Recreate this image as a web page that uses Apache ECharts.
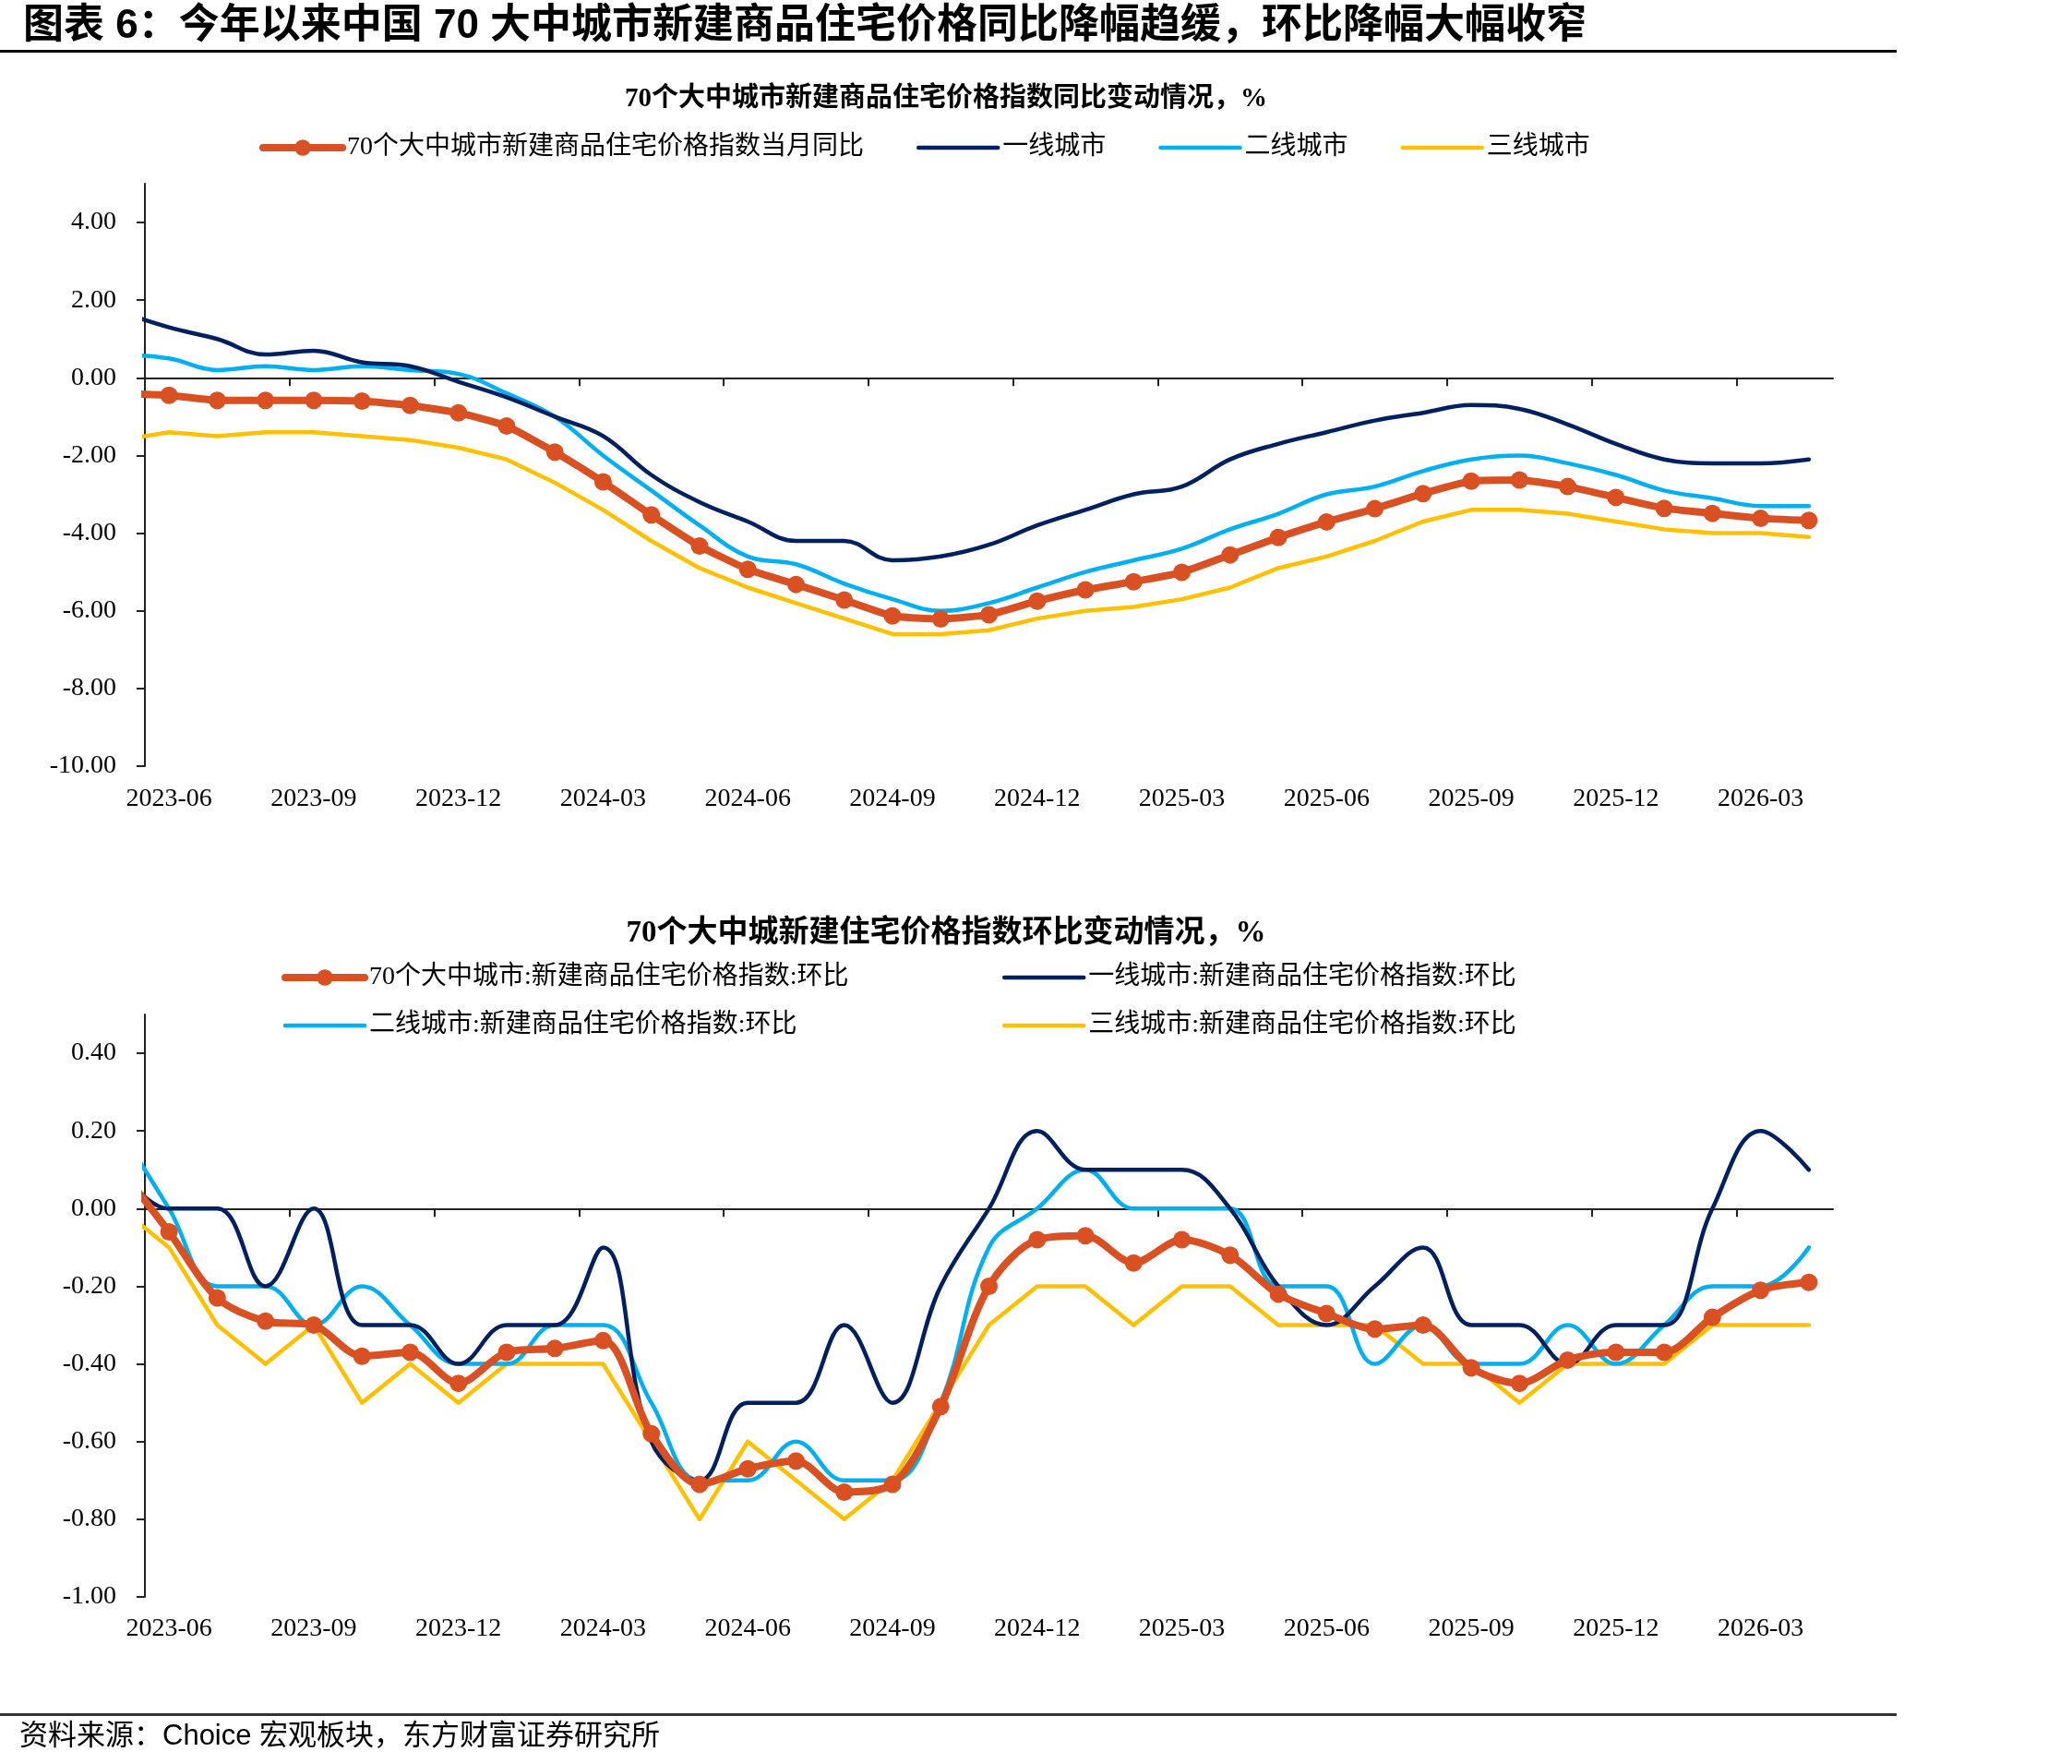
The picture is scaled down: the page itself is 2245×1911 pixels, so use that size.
<!DOCTYPE html>
<html>
<head>
<meta charset="utf-8">
<title>70个大中城市新建商品住宅价格指数</title>
<script src="https://cdn.jsdelivr.net/npm/echarts@6.0.0/dist/echarts.min.js"></script>
<style>
  html, body { margin: 0; padding: 0; background: #fff; }
  #chart { width: 2245px; height: 1911px; }
</style>
</head>
<body>
<div id="chart"></div>
<script>
// month of each point; the first one (2023-05) lies half outside the plot and is clipped
const months = [
  '2023-05', '2023-06', '2023-07', '2023-08', '2023-09', '2023-10', '2023-11', '2023-12',
  '2024-01', '2024-02', '2024-03', '2024-04', '2024-05', '2024-06', '2024-07', '2024-08',
  '2024-09', '2024-10', '2024-11', '2024-12', '2025-01', '2025-02', '2025-03', '2025-04',
  '2025-05', '2025-06', '2025-07', '2025-08', '2025-09', '2025-10', '2025-11', '2025-12',
  '2026-01', '2026-02', '2026-03', '2026-04'
];

// 同比, %
const yoy_70 = [-0.40, -0.45, -0.58, -0.58, -0.58, -0.60, -0.71, -0.90, -1.24, -1.91, -2.68, -3.53,
  -4.33, -4.93, -5.32, -5.72, -6.13, -6.21, -6.10, -5.75, -5.46, -5.25, -5.01, -4.56,
  -4.11, -3.71, -3.37, -2.98, -2.66, -2.63, -2.80, -3.08, -3.36, -3.49, -3.62, -3.67];
const yoy_tier1 = [1.7, 1.3, 1.0, 0.6, 0.7, 0.4, 0.3, -0.1, -0.5, -1.0, -1.5, -2.5,
  -3.2, -3.7, -4.2, -4.2, -4.7, -4.6, -4.3, -3.8, -3.4, -3.0, -2.8, -2.1,
  -1.7, -1.4, -1.1, -0.9, -0.7, -0.8, -1.2, -1.7, -2.1, -2.2, -2.2, -2.1];
const yoy_tier2 = [0.6, 0.5, 0.2, 0.3, 0.2, 0.3, 0.2, 0.1, -0.4, -1.0, -2.0, -2.9,
  -3.8, -4.6, -4.8, -5.3, -5.7, -6.0, -5.8, -5.4, -5.0, -4.7, -4.4, -3.9,
  -3.5, -3.0, -2.8, -2.4, -2.1, -2.0, -2.2, -2.5, -2.9, -3.1, -3.3, -3.3];
const yoy_tier3 = [-1.6, -1.4, -1.5, -1.4, -1.4, -1.5, -1.6, -1.8, -2.1, -2.7, -3.4, -4.2,
  -4.9, -5.4, -5.8, -6.2, -6.6, -6.6, -6.5, -6.2, -6.0, -5.9, -5.7, -5.4,
  -4.9, -4.6, -4.2, -3.7, -3.4, -3.4, -3.5, -3.7, -3.9, -4.0, -4.0, -4.1];

// 环比, %
const mom_70 = [0.10, -0.06, -0.23, -0.29, -0.30, -0.38, -0.37, -0.45, -0.37, -0.36, -0.34, -0.58,
  -0.71, -0.67, -0.65, -0.73, -0.71, -0.51, -0.20, -0.08, -0.07, -0.14, -0.08, -0.12,
  -0.22, -0.27, -0.31, -0.30, -0.41, -0.45, -0.39, -0.37, -0.37, -0.28, -0.21, -0.19];
const mom_tier1 = [0.1, 0.0, 0.0, -0.2, 0.0, -0.3, -0.3, -0.4, -0.3, -0.3, -0.1, -0.6,
  -0.7, -0.5, -0.5, -0.3, -0.5, -0.2, 0.0, 0.2, 0.1, 0.1, 0.1, 0.0,
  -0.2, -0.3, -0.2, -0.1, -0.3, -0.3, -0.4, -0.3, -0.3, 0.0, 0.2, 0.1];
const mom_tier2 = [0.2, 0.0, -0.2, -0.2, -0.3, -0.2, -0.3, -0.4, -0.4, -0.3, -0.3, -0.5,
  -0.7, -0.7, -0.6, -0.7, -0.7, -0.5, -0.1, 0.0, 0.1, 0.0, 0.0, 0.0,
  -0.2, -0.2, -0.4, -0.3, -0.4, -0.4, -0.3, -0.4, -0.3, -0.2, -0.2, -0.1];
const mom_tier3 = [0.0, -0.1, -0.3, -0.4, -0.3, -0.5, -0.4, -0.5, -0.4, -0.4, -0.4, -0.6,
  -0.8, -0.6, -0.7, -0.8, -0.7, -0.5, -0.3, -0.2, -0.2, -0.3, -0.2, -0.2,
  -0.3, -0.3, -0.3, -0.4, -0.4, -0.5, -0.4, -0.4, -0.4, -0.3, -0.3, -0.3];

// y axis tick labels
const yoy_ticks = [-10, -8, -6, -4, -2, 0, 2, 4];
const mom_ticks = [-1, -0.8, -0.6, -0.4, -0.2, 0, 0.2, 0.4];

const names_yoy = ['70个大中城市新建商品住宅价格指数当月同比', '一线城市', '二线城市', '三线城市'];
const names_mom = ['70个大中城市:新建商品住宅价格指数:环比', '一线城市:新建商品住宅价格指数:环比',
  '二线城市:新建商品住宅价格指数:环比', '三线城市:新建商品住宅价格指数:环比'];

const main_title = '图表 6：今年以来中国 70 大中城市新建商品住宅价格同比降幅趋缓，环比降幅大幅收窄';
const title_yoy = '70个大中城市新建商品住宅价格指数同比变动情况，%';
const title_mom = '70个大中城新建住宅价格指数环比变动情况，%';
const source_text = '资料来源：Choice 宏观板块，东方财富证券研究所';

const C_ORANGE = '#D95123', C_NAVY = '#002060', C_BLUE = '#00B0F0', C_YELLOW = '#FFC000';
const SERIF = '"Liberation Serif", "Noto Sans CJK SC"';
const SANS = '"Liberation Sans", "Noto Sans CJK SC"';

// x runs from 0 to 35 (one unit per month), month j is drawn at j - 0.5
const n_months = months.length - 1;
let x_ticks = [], x_labels = [];
for (let j = 1; j < months.length; j += 3) {
  x_ticks.push(j - 1);
  x_labels.push(j - 0.5);
}
const toPoints = arr => arr.map((v, j) => [j - 0.5, v]);

const axisColor = '#222';

function xAxes(grid, labelMargin) {
  return [
    {
      gridIndex: grid, type: 'value', min: 0, max: n_months, position: 'bottom',
      axisLine: { show: true, onZero: true, lineStyle: { color: axisColor, width: 2 } },
      axisTick: { show: true, customValues: x_ticks, length: 9, lineStyle: { color: axisColor, width: 2 } },
      axisLabel: { show: false },
      splitLine: { show: false }
    },
    {
      gridIndex: grid, type: 'value', min: 0, max: n_months, position: 'bottom',
      axisLine: { show: false, onZero: false },
      axisTick: { show: false },
      axisLabel: {
        customValues: x_labels,
        formatter: v => months[Math.round(v + 0.5)],
        margin: labelMargin, fontSize: 28, fontFamily: SERIF, color: '#000'
      },
      splitLine: { show: false }
    }
  ];
}

function yAxis(grid, min, max, ticks) {
  return {
    gridIndex: grid, type: 'value', min: min, max: max, position: 'left',
    axisLine: { show: true, onZero: false, lineStyle: { color: axisColor, width: 2 } },
    axisTick: { show: true, customValues: ticks, length: 9, lineStyle: { color: axisColor, width: 2 } },
    axisLabel: {
      customValues: ticks, formatter: v => v.toFixed(2),
      margin: 31, fontSize: 28, fontFamily: SERIF, color: '#000'
    },
    splitLine: { show: false }
  };
}

function line(name, data, xi, yi, color, width, smooth, marker) {
  return {
    name: name, type: 'line', xAxisIndex: xi, yAxisIndex: yi,
    data: toPoints(data),
    smooth: smooth,
    symbol: marker ? 'circle' : 'none',
    showSymbol: !!marker,
    symbolSize: 19,
    clip: true,
    lineStyle: { color: color, width: width, cap: 'round', join: 'round' },
    itemStyle: { color: color },
    z: marker ? 5 : 3
  };
}

// legend entry: plain lines get no dot in the icon
function legendItem(name, marker) {
  if (marker) return { name: name };
  return { name: name, itemStyle: { color: 'transparent', borderColor: 'transparent', borderWidth: 0 } };
}

const legendText = { fontSize: 28, fontFamily: SERIF, color: '#000', lineHeight: 32 };

let option = {
  backgroundColor: '#fff',
  animation: false,
  grid: [
    { left: 157, top: 199, width: 1829, height: 631 },
    { left: 157, top: 1099, width: 1829, height: 631 }
  ],
  xAxis: xAxes(0, 22).concat(xAxes(1, 21)),
  yAxis: [yAxis(0, -10, 5, yoy_ticks), yAxis(1, -1, 0.5, mom_ticks)],
  legend: [
    {
      data: [legendItem(names_yoy[0], true), legendItem(names_yoy[1]), legendItem(names_yoy[2]), legendItem(names_yoy[3])],
      left: 281, top: 144, padding: 0, orient: 'horizontal',
      itemWidth: 86, itemHeight: 22, itemGap: 57,
      lineStyle: { width: 'inherit' }, textStyle: legendText
    },
    {
      data: [legendItem(names_mom[0], true), legendItem(names_mom[2])],
      left: 305, top: 1043, padding: 0, orient: 'vertical',
      itemWidth: 86, itemHeight: 22, itemGap: 20,
      lineStyle: { width: 'inherit' }, textStyle: legendText
    },
    {
      data: [legendItem(names_mom[1]), legendItem(names_mom[3])],
      left: 1086, top: 1043, padding: 0, orient: 'vertical',
      itemWidth: 86, itemHeight: 22, itemGap: 20,
      lineStyle: { width: 'inherit' }, textStyle: legendText
    }
  ],
  series: [
    line(names_yoy[3], yoy_tier3, 0, 0, C_YELLOW, 4.5, false, false),
    line(names_yoy[2], yoy_tier2, 0, 0, C_BLUE, 4.5, 0.4, false),
    line(names_yoy[1], yoy_tier1, 0, 0, C_NAVY, 4.5, 0.4, false),
    line(names_yoy[0], yoy_70, 0, 0, C_ORANGE, 8, 0.15, true),
    line(names_mom[3], mom_tier3, 2, 1, C_YELLOW, 4.5, false, false),
    line(names_mom[2], mom_tier2, 2, 1, C_BLUE, 4.5, 0.4, false),
    line(names_mom[1], mom_tier1, 2, 1, C_NAVY, 4.5, 0.4, false),
    line(names_mom[0], mom_70, 2, 1, C_ORANGE, 8, 0.3, true)
  ],
  graphic: [
    {
      type: 'text', x: 25, y: 29,
      style: {
        text: main_title, fontSize: 44, fontWeight: 'bold', fontFamily: SANS, fill: '#000',
        align: 'left', verticalAlign: 'middle', textAlign: 'left', textVerticalAlign: 'middle'
      }
    },
    { type: 'rect', shape: { x: 0, y: 54, width: 2055, height: 3 }, style: { fill: '#000' } },
    {
      type: 'text', x: 1025, y: 108,
      style: {
        text: title_yoy, fontSize: 29, fontWeight: 'bold', fontFamily: SERIF, fill: '#000',
        align: 'center', verticalAlign: 'middle', textAlign: 'center', textVerticalAlign: 'middle'
      }
    },
    {
      type: 'text', x: 1025, y: 1011,
      style: {
        text: title_mom, fontSize: 33, fontWeight: 'bold', fontFamily: SERIF, fill: '#000',
        align: 'center', verticalAlign: 'middle', textAlign: 'center', textVerticalAlign: 'middle'
      }
    },
    { type: 'rect', shape: { x: 0, y: 1856, width: 2055, height: 3 }, style: { fill: '#333' } },
    {
      type: 'text', x: 21, y: 1881,
      style: {
        text: source_text, fontSize: 31, fontFamily: SANS, fill: '#000',
        align: 'left', verticalAlign: 'middle', textAlign: 'left', textVerticalAlign: 'middle'
      }
    }
  ]
};

let chart = echarts.init(document.getElementById('chart'));
chart.setOption(option);
</script>
</body>
</html>
